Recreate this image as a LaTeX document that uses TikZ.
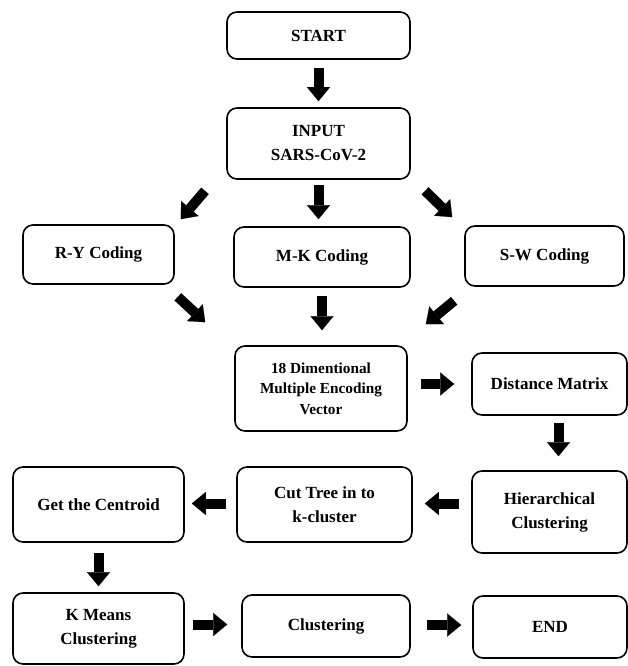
\documentclass[tikz,border=0pt]{standalone}
\usepackage{fontspec}
\setmainfont{Liberation Serif}
\usetikzlibrary{arrows.meta,calc}
\begin{document}
\begin{tikzpicture}[x=1pt,y=-1pt,
  box/.style={draw=black, line width=1.6pt, rounded corners=10pt, inner sep=0pt,
    align=center, font=\bfseries\fontsize{17}{24}\selectfont},
  barrow/.style={line width=10pt, draw=black,
    -{Triangle[width=23pt,length=14pt,line width=0.1pt]}}]
\useasboundingbox (0,0) rectangle (628,666);
\node[box, minimum width=183pt, minimum height=47pt] (start) at (318.5,35.5) {START};
\node[box, minimum width=183pt, minimum height=71pt] (input) at (318.5,143.5) {INPUT\\SARS-CoV-2};
\node[box, minimum width=151pt, minimum height=59pt] (ry) at (98.5,254.5) {R-Y Coding};
\node[box, minimum width=176pt, minimum height=60pt] (mk) at (322,257) {M-K Coding};
\node[box, minimum width=159pt, minimum height=60pt] (sw) at (544.5,256) {S-W Coding};
\node[box, minimum width=172pt, minimum height=85pt, font=\bfseries\fontsize{15.3}{20.5}\selectfont] (vec) at (321,388.5) {18 Dimentional\\Multiple Encoding\\Vector};
\node[box, minimum width=155pt, minimum height=62pt] (dm) at (549.5,384) {Distance Matrix};
\node[box, minimum width=155pt, minimum height=82pt] (hc) at (549.5,512) {Hierarchical\\Clustering};
\node[box, minimum width=175pt, minimum height=75pt] (ct) at (324.5,504.5) {Cut Tree in to\\k-cluster};
\node[box, minimum width=171pt, minimum height=75pt] (gc) at (98.5,504.5) {Get the Centroid};
\node[box, minimum width=171pt, minimum height=71pt] (km) at (98.5,628.5) {K Means\\Clustering};
\node[box, minimum width=168pt, minimum height=62pt] (cl) at (326,626) {Clustering};
\node[box, minimum width=154pt, minimum height=62pt] (end) at (550,627) {END};

\draw[barrow] ($(start.south)+(0,8)$) -- ($(input.north)+(0,-6)$);
\draw[barrow] ($(input.south)+(0,5)$) -- ($(input.south |- mk.north)+(0,-7)$);
\draw[barrow] ($(input.south)+(-113.5,11)$) -- ($(ry.north east)+(6,-5)$);
\draw[barrow] ($(input.south)+(106.5,11)$) -- ($(sw.north west)+(-12,-8)$);
\draw[barrow] ($(ry.south east)+(3,12)$) -- ($(vec.north west)+(-29,-23)$);
\draw[barrow] ($(mk.south)+(0,8)$) -- ($(mk.south |- vec.north)+(0,-15)$);
\draw[barrow] ($(sw.south west)+(-10,14)$) -- ($(vec.north east)+(18,-21)$);
\draw[barrow] ($(vec.east |- dm.west)+(13,0)$) -- ($(dm.west)+(-17,0)$);
\draw[barrow] ($(dm.south)+(9,7)$) -- ($(hc.north)+(9,-14)$);
\draw[barrow] ($(hc.west |- ct.east)+(-12,-1)$) -- ($(ct.east)+(12,-1)$);
\draw[barrow] ($(ct.west)+(-10,-1)$) -- ($(gc.east)+(7,-1)$);
\draw[barrow] ($(gc.south)+(0,10)$) -- ($(km.north)+(0,-6)$);
\draw[barrow] ($(km.east)+(8,-4)$) -- ($(cl.west |- km.east)+(-14,-4)$);
\draw[barrow] ($(cl.east)+(16,-1)$) -- ($(end.west)+(-11,-2)$);
\end{tikzpicture}
\end{document}
